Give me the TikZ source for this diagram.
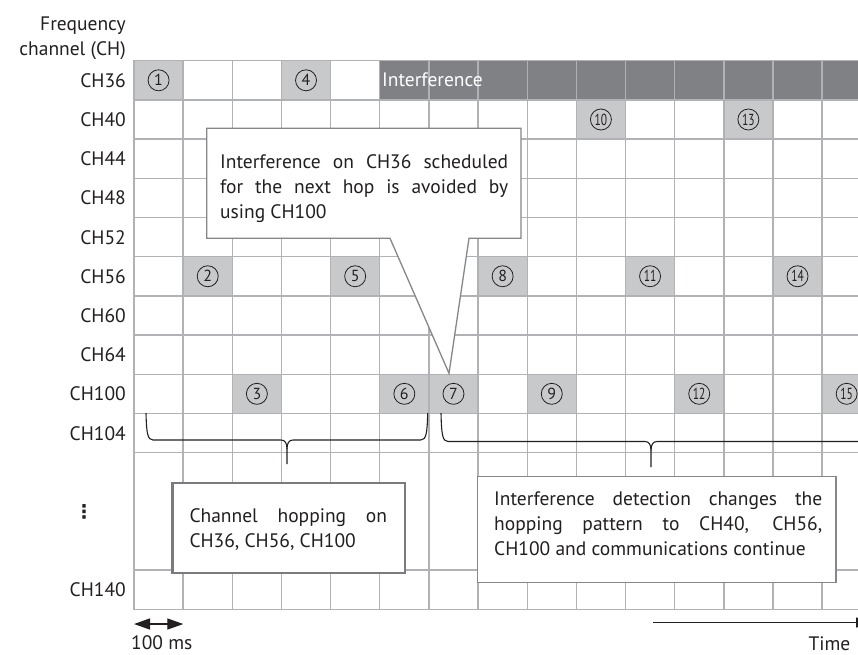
\documentclass[tikz,border=0pt]{standalone}
\usepackage{fontspec}
\setmainfont{PT Sans}
\newfontfamily\dejavu{DejaVu Sans}
\usetikzlibrary{arrows.meta}
\definecolor{gridc}{HTML}{B1B2B5}
\definecolor{hopc}{HTML}{C8C9CB}
\definecolor{intc}{HTML}{808184}
\definecolor{boxc}{HTML}{86878A}
\definecolor{boxd}{HTML}{7A7B7E}
\definecolor{inkc}{HTML}{231F20}
\newcommand\mybrace[6]{%
  \draw[bracec] (#1,#4) .. controls (#1+0.5,#5-7) and (#1+1.5,#5) .. (#1+7,#5) -- (#3-6,#5) .. controls (#3-2,#5) and (#3,#5+3) .. (#3,#5+9) -- (#3,#6);
  \draw[bracec] (#3,#5+9) .. controls (#3,#5+3) and (#3+2,#5) .. (#3+6,#5) -- (#2-7,#5) .. controls (#2-1.5,#5) and (#2-0.5,#5-7) .. (#2,#4);}
\begin{document}
\begin{tikzpicture}[x=1pt,y=-1pt,
  lab/.style={anchor=base east, inner sep=0pt, font=\fontsize{19.5}{24}\selectfont, text=inkc},
  gridline/.style={draw=gridc, line width=1.4pt},
  num/.style={circle, draw=inkc, line width=0.8pt, inner sep=0pt, minimum size=21pt, font=\fontsize{16}{16}\selectfont, text=inkc},
  callout/.style={draw=boxc, line width=1.3pt, fill=white},
  calloutb/.style={draw=boxd, line width=2.4pt, fill=white},
  ctext/.style={anchor=north west, inner sep=0pt, align=justify, font=\fontsize{19.5}{25}\selectfont, text=inkc},
  bracec/.style={draw=inkc, line width=1.1pt},
  arr/.style={draw=inkc, line width=1.3pt},
]
\useasboundingbox (0,0) rectangle (858,654);
\clip (0,0) rectangle (858,654);
\fill[white] (0,0) rectangle (858,654);
% interference row
\fill[intc] ({134+49.15*5},60.7) rectangle (880,99.89);
% hop cells
\foreach \n/\c/\r in {1/0/0,2/1/5,3/2/8,4/3/0,5/4/5,6/5/8,7/6/8,8/7/5,9/8/8,10/9/1,11/10/5,12/11/8,13/12/1,14/13/5,15/14/8}
  \fill[hopc] ({134+49.15*\c},{60.7+39.19*\r}) rectangle ++(49.15,39.19);
% grid
\foreach \i in {0,...,15}
  \draw[gridline] ({134+49.15*\i},60.7) -- ({134+49.15*\i},609.36);
\foreach \j in {0,1,2,3,4,5,6,7,8,9,10,13,14}
  \draw[gridline] (133.3,{60.7+39.19*\j}) -- (880,{60.7+39.19*\j});
% numbers
\foreach \n/\c/\r in {1/0/0,2/1/5,3/2/8,4/3/0,5/4/5,6/5/8,7/6/8,8/7/5,9/8/8}
  \node[num] (h\n) at ({134+49.15*(\c+0.5)},{60.7+39.19*(\r+0.5)}) {\n};
\foreach \n/\c/\r in {10/9/1,11/10/5,12/11/8,13/12/1,14/13/5,15/14/8}
  \node[num] (h\n) at ({134+49.15*(\c+0.5)},{60.7+39.19*(\r+0.5)}) {\scalebox{0.72}[1]{\n}};
\node[anchor=base west, inner sep=0pt, text=white, font=\fontsize{19.5}{24}\selectfont] (intf) at (382,86.5) {Interference};
% labels
\node[lab] (freq1) at (126,30.7) {Frequency};
\node[lab] (freq2) at (126,55.2) {channel (CH)};
\foreach \t [count=\r from 0] in {CH36,CH40,CH44,CH48,CH52,CH56,CH60,CH64,CH100,CH104}
  \node[lab] (lab\r) at (126,{60.7+39.19*(\r+0.5)+7}) {\t};
\node[lab] (lab13) at (126,{60.7+39.19*13.5+7}) {CH140};
\node[inner sep=0pt, text=inkc, font=\dejavu\bfseries\fontsize{19}{19}\selectfont] (dots) at (84,512) {⋮};
% braces
\mybrace{146}{427.7}{287}{413}{440}{464}
\mybrace{441}{880}{651}{413}{441.5}{467}
% callout 1
\coordinate (tip) at (449,373.3);
\draw[callout] (206.7,128.3) -- (521,128.3) -- (521,238.3) -- (469,238.3) -- (tip) -- (390,238.3) -- (206.7,238.3) -- cycle;
\node[ctext, text width=288pt] (c1) at (220,154.3) {Interference on CH36 scheduled\linebreak for the next hop is avoided by\linebreak using CH100};
% callout 2
\draw[calloutb] (172.3,482.7) rectangle (405,572.7);
\node[ctext, text width=197.5pt] (c2) at (189.3,508.7) {Channel hopping on\linebreak CH36, CH56, CH100};
% callout 3
\draw[callout] (477.7,476.7) rectangle (836,582.3);
\node[ctext, text width=328pt] (c3) at (494,491.7) {Interference detection changes the\linebreak hopping pattern to CH40, CH56,\linebreak CH100 and communications continue};
% time scale
\coordinate (a1) at (134,624);
\coordinate (a2) at (183.3,624);
\draw[arr, {Triangle[length=16pt,width=11pt]}-{Triangle[length=16pt,width=11pt]}] (a1) -- (a2);
\node[anchor=base west, inner sep=0pt, text=inkc, font=\fontsize{19.5}{24}\selectfont] (ms) at (131,649.5) {100 ms};
\coordinate (t1) at (653,622.5);
\coordinate (t2) at (871,622.5);
\draw[arr, -{Triangle[length=15pt,width=10pt]}] (t1) -- (t2);
\node[anchor=base east, inner sep=0pt, text=inkc, font=\fontsize{19.5}{24}\selectfont] (time) at (850.5,650) {Time};
\end{tikzpicture}
\end{document}
